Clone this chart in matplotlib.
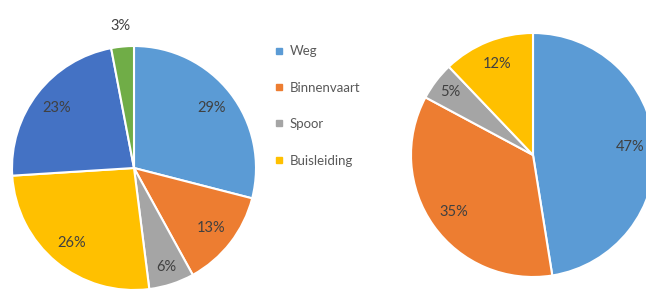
import matplotlib
matplotlib.use("Agg")
import matplotlib.pyplot as plt
from matplotlib.lines import Line2D
import numpy as np

plt.rcParams['font.family'] = ['Lato', 'DejaVu Sans']

# Data
legend_labels = ["Weg", "Binnenvaart", "Spoor", "Buisleiding"]
left_values = [29, 13, 6, 26, 23, 3]
left_colors = ["#5B9BD5", "#ED7D31", "#A5A5A5", "#FFC000", "#4472C4", "#70AD47"]
right_values = [47, 35, 5, 12]
right_colors = ["#5B9BD5", "#ED7D31", "#A5A5A5", "#FFC000"]

W, H = 646, 289
fig = plt.figure(figsize=(W / 100, H / 100), dpi=100)
fig.patch.set_facecolor("white")

def pie_axes(cx, cy, r):
    ax = fig.add_axes([(cx - r) / W, (H - cy - r) / H, 2 * r / W, 2 * r / H])
    return ax

label_color = "#404040"

def draw_pie(ax, values, colors):
    total = sum(values)
    wedges, _ = ax.pie(values, colors=colors, startangle=90, counterclock=False,
                       radius=1.0, wedgeprops=dict(edgecolor="white", linewidth=1.5))
    for w, v in zip(wedges, values):
        ang = np.deg2rad((w.theta1 + w.theta2) / 2)
        frac = v / total
        if frac < 0.04:
            d = 1.17
        elif frac < 0.08:
            d = 0.85
        else:
            d = 0.8
        ax.text(d * np.cos(ang), d * np.sin(ang), f"{round(100 * frac)}%",
                ha="center", va="center", fontsize=10.5, color=label_color)
    ax.set_xlim(-1, 1)
    ax.set_ylim(-1, 1)
    ax.axis("off")
    return wedges

axL = pie_axes(134, 168, 122)
draw_pie(axL, left_values, left_colors)

axR = pie_axes(533, 155, 122)
draw_pie(axR, right_values, right_colors)

handles = [Line2D([0], [0], marker="s", linestyle="none", markersize=4,
                  markerfacecolor=c, markeredgecolor=c) for c in right_colors]
fig.legend(handles, legend_labels, loc="upper left",
           bbox_to_anchor=(270 / W, 1 - 40 / H), frameon=False,
           fontsize=9.5, labelcolor="#595959", handlelength=0.6,
           handletextpad=0.5, labelspacing=1.85, borderaxespad=0)

fig.savefig("out.png", dpi=100, facecolor="white")
